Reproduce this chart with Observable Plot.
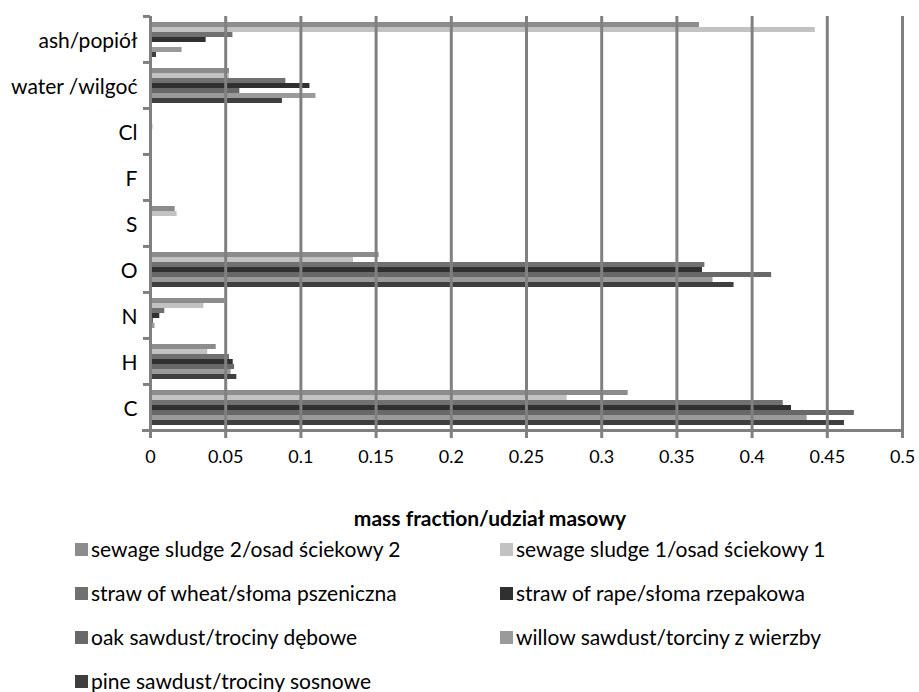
<!DOCTYPE html>
<html>
<head>
<meta charset="utf-8">
<script src="https://cdn.jsdelivr.net/npm/d3@7"></script>
<script src="https://cdn.jsdelivr.net/npm/@observablehq/plot@0.6"></script>
<style>
  body { margin: 0; background: white; }
  #wrap { position: relative; width: 919px; height: 692px; font-family: Lato, "Liberation Sans", sans-serif; color: #000; }
  #xlabel { position: absolute; left: 190px; width: 600px; top: 505px; text-align: center; font-weight: bold; font-size: 21px; line-height: 26px; }
  #legend { position: absolute; left: 75px; top: 536px; display: grid; grid-template-columns: 425px 420px; grid-auto-rows: 44px; font-size: 21px; }
  .item { display: flex; align-items: center; height: 26px; white-space: pre; line-height: 24px; }
  .sw { width: 13px; height: 13px; margin-right: 3px; flex: none; }
</style>
</head>
<body>
<div id="wrap">
  <div id="chart"></div>
  <div id="xlabel"></div>
  <div id="legend"></div>
</div>
<script>
const categories = ["ash/popiół", "water /wilgoć", "Cl", "F", "S", "O", "N", "H", "C"];
const seriesNames = [
  "sewage sludge 2/osad ściekowy 2",
  "sewage sludge 1/osad ściekowy 1",
  "straw of wheat/słoma pszeniczna",
  "straw of rape/słoma rzepakowa",
  "oak sawdust/trociny dębowe",
  "willow sawdust/torciny z wierzby",
  "pine sawdust/trociny sosnowe"
];
const seriesColors = ["#8c8c8c", "#c2c2c2", "#707070", "#303030", "#686868", "#9a9a9a", "#3e3e3e"];
// values per series, in category order: ash, water, Cl, F, S, O, N, H, C
const sludge2 = [0.365, 0.0525, 0.001, 0, 0.0164, 0.152, 0.0494, 0.0437, 0.3176];
const sludge1 = [0.442, 0.0525, 0.001, 0, 0.0177, 0.135, 0.0355, 0.0381, 0.277];
const wheat   = [0.0548, 0.090, 0.0015, 0, 0.001, 0.3686, 0.0095, 0.0525, 0.4207];
const rape    = [0.037, 0.106, 0.0005, 0, 0.001, 0.367, 0.0062, 0.055, 0.4262];
const oak     = [0.001, 0.0594, 0, 0, 0.0002, 0.413, 0.002, 0.0559, 0.468];
const willow  = [0.021, 0.110, 0, 0, 0.0003, 0.374, 0.003, 0.0536, 0.4366];
const pine    = [0.004, 0.0877, 0, 0, 0.0002, 0.388, 0.001, 0.0574, 0.4614];
const xTicks = [0, 0.05, 0.1, 0.15, 0.2, 0.25, 0.3, 0.35, 0.4, 0.45, 0.5];
const xLabel = "mass fraction/udział  masowy";

const seriesValues = [sludge2, sludge1, wheat, rape, oak, willow, pine];
const data = seriesNames.flatMap((s, i) => categories.map((c, j) => ({series: s, cat: c, value: seriesValues[i][j]})));

const W = 919, H = 490, mT = 15, mB = 60, mL = 150, mR = 17;
const halfBand = (H - mT - mB) / categories.length / 2;
const axisColor = "#808080";

const chart = Plot.plot({
  width: W, height: H,
  marginTop: mT, marginBottom: mB, marginLeft: mL, marginRight: mR,
  style: {fontFamily: "Lato, 'Liberation Sans', sans-serif", fontSize: "21px", color: "#000", background: "white"},
  x: {domain: [0, 0.5]},
  fy: {domain: categories, padding: 0, label: null},
  y: {domain: seriesNames, paddingInner: 0, paddingOuter: 0.8, axis: null},
  color: {domain: seriesNames, range: seriesColors},
  marks: [
    Plot.barX(data, {x: "value", y: "series", fy: "cat", fill: "series", inset: 0}),
    Plot.ruleX(xTicks.slice(1), {stroke: axisColor, strokeWidth: 3}),
    Plot.ruleX([0], {stroke: axisColor, strokeWidth: 3}),
    Plot.frame({anchor: "bottom", facetAnchor: "bottom", stroke: axisColor, strokeWidth: 3, insetLeft: -7}),
    Plot.axisFy({anchor: "left", tickSize: 0, tickPadding: 13, label: null, fontSize: 21, dy: 2}),
    Plot.axisFy({anchor: "left", tickSize: 7, tickFormat: () => "", label: null, dy: -halfBand, stroke: axisColor, strokeWidth: 3}),
    Plot.axisX({anchor: "bottom", ticks: xTicks, tickSize: 8, tickPadding: 12, tickFormat: d3.format("~g"), label: null, stroke: axisColor, strokeWidth: 3, fontSize: 18})
  ]
});
document.getElementById("chart").appendChild(chart);
document.getElementById("xlabel").textContent = xLabel;

const legend = document.getElementById("legend");
seriesNames.forEach((s, i) => {
  const it = document.createElement("div");
  it.className = "item";
  const sw = document.createElement("span");
  sw.className = "sw";
  sw.style.background = seriesColors[i];
  const t = document.createElement("span");
  t.textContent = s;
  it.appendChild(sw); it.appendChild(t);
  legend.appendChild(it);
});
</script>
</body>
</html>
